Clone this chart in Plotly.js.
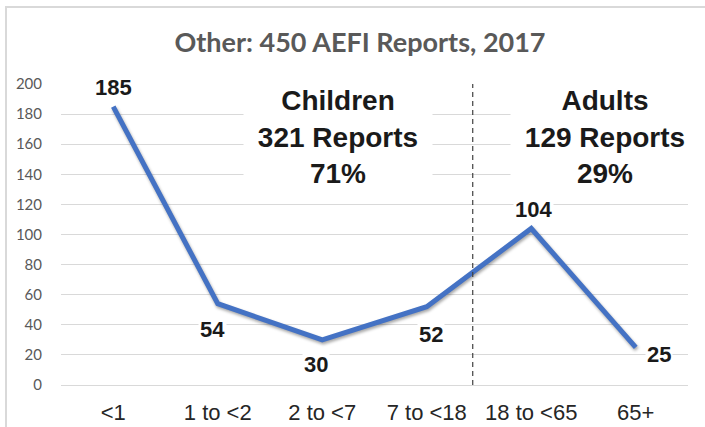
<!DOCTYPE html>
<html>
<head>
<meta charset="utf-8">
<script src="https://cdn.plot.ly/plotly-3.0.1.min.js"></script>
<style>
  html, body { margin: 0; padding: 0; background: #ffffff; }
  #chart { width: 705px; height: 427px; }
  .scatterlayer .js-line { filter: drop-shadow(1px 2px 1.5px rgba(0,0,0,0.35)); }
</style>
</head>
<body>
<div id="chart"></div>
<script>
// ---- data ----
const chartTitle = 'Other: 450 AEFI Reports, 2017';
const categories = ['<1', '1 to <2', '2 to <7', '7 to <18', '18 to <65', '65+'];
const reports = [185, 54, 30, 52, 104, 25];
const groupNames = ['Children', 'Adults'];
const groupReports = [321, 129];
const groupPct = [71, 29];

// ---- styling / placement (not data) ----
const labelShift = [[0, 19], [-5, -26], [-6, -25], [4, -28], [2, 19], [23, -7]];
const groupBoxX = [0.441, 0.868];   // paper x of group text boxes
const dividerX = 3.44;               // category-axis position of the dashed divider

const W = 705, H = 427;
const M = {l: 61, r: 17, t: 84, b: 42};
const plotW = W - M.l - M.r, plotH = H - M.t - M.b;
const px2paperX = p => (p - M.l) / plotW;
const py2paperY = p => (H - M.b - p) / plotH;

const trace = {
  type: 'scatter',
  mode: 'lines',
  x: categories,
  y: reports,
  line: {color: '#4472C4', width: 5},
  hoverinfo: 'skip'
};

const annotations = [];
reports.forEach((v, i) => {
  annotations.push({
    x: categories[i], y: v, xref: 'x', yref: 'y',
    text: String(v), showarrow: false,
    xshift: labelShift[i][0], yshift: labelShift[i][1],
    font: {family: 'Liberation Sans, Arial, sans-serif', size: 22, color: '#1a1a1a', weight: 'bold'},
    bgcolor: '#ffffff', borderpad: 1
  });
});
groupNames.forEach((g, i) => {
  annotations.push({
    x: groupBoxX[i], y: 165, xref: 'paper', yref: 'y',
    xanchor: 'center', yanchor: 'middle',
    text: g + '<br>' + groupReports[i] + ' Reports<br>' + groupPct[i] + '%',
    showarrow: false, align: 'center',
    font: {family: 'Liberation Sans, Arial, sans-serif', size: 28, color: '#1a1a1a', weight: 'bold'},
    bgcolor: '#ffffff', width: 186, height: 98
  });
});

const layout = {
  width: W, height: H,
  margin: M,
  paper_bgcolor: '#ffffff', plot_bgcolor: '#ffffff',
  showlegend: false,
  title: {
    text: '<b>' + chartTitle + '</b>',
    x: 360 / W, xanchor: 'center', xref: 'container',
    y: 1 - 43 / H, yanchor: 'middle', yref: 'container',
    font: {family: 'Lato, Carlito, sans-serif', size: 27, color: '#595959'}
  },
  xaxis: {
    type: 'category',
    range: [-0.5, categories.length - 0.5],
    autorange: false,
    showgrid: false, zeroline: false, showline: false,
    ticks: 'outside', ticklen: 8, tickcolor: 'rgba(0,0,0,0)',
    tickfont: {family: 'Liberation Sans, Arial, sans-serif', size: 22, color: '#262626'},
    fixedrange: true
  },
  yaxis: {
    range: [0, 200], autorange: false, dtick: 20, tick0: 0,
    showgrid: true, gridcolor: '#d9d9d9', gridwidth: 1,
    zeroline: true, zerolinecolor: '#d9d9d9', zerolinewidth: 1,
    showline: false,
    ticks: 'outside', ticklen: 15, tickcolor: 'rgba(0,0,0,0)',
    tickfont: {family: 'Lato, Noto Sans, sans-serif', size: 15, color: '#595959'},
    fixedrange: true
  },
  shapes: [
    {type: 'line', xref: 'x', yref: 'y', x0: dividerX, x1: dividerX, y0: 0, y1: 200,
     line: {color: '#404040', width: 1.2, dash: '5px,4px'}},
    {type: 'line', xref: 'paper', yref: 'paper',
     x0: px2paperX(5), x1: px2paperX(720), y0: py2paperY(7), y1: py2paperY(7),
     line: {color: '#d9d9d9', width: 2}},
    {type: 'line', xref: 'paper', yref: 'paper',
     x0: px2paperX(6), x1: px2paperX(6), y0: py2paperY(6), y1: py2paperY(440),
     line: {color: '#d9d9d9', width: 2}}
  ],
  annotations: annotations
};

Plotly.newPlot('chart', [trace], layout, {displayModeBar: false, staticPlot: true});
</script>
</body>
</html>
